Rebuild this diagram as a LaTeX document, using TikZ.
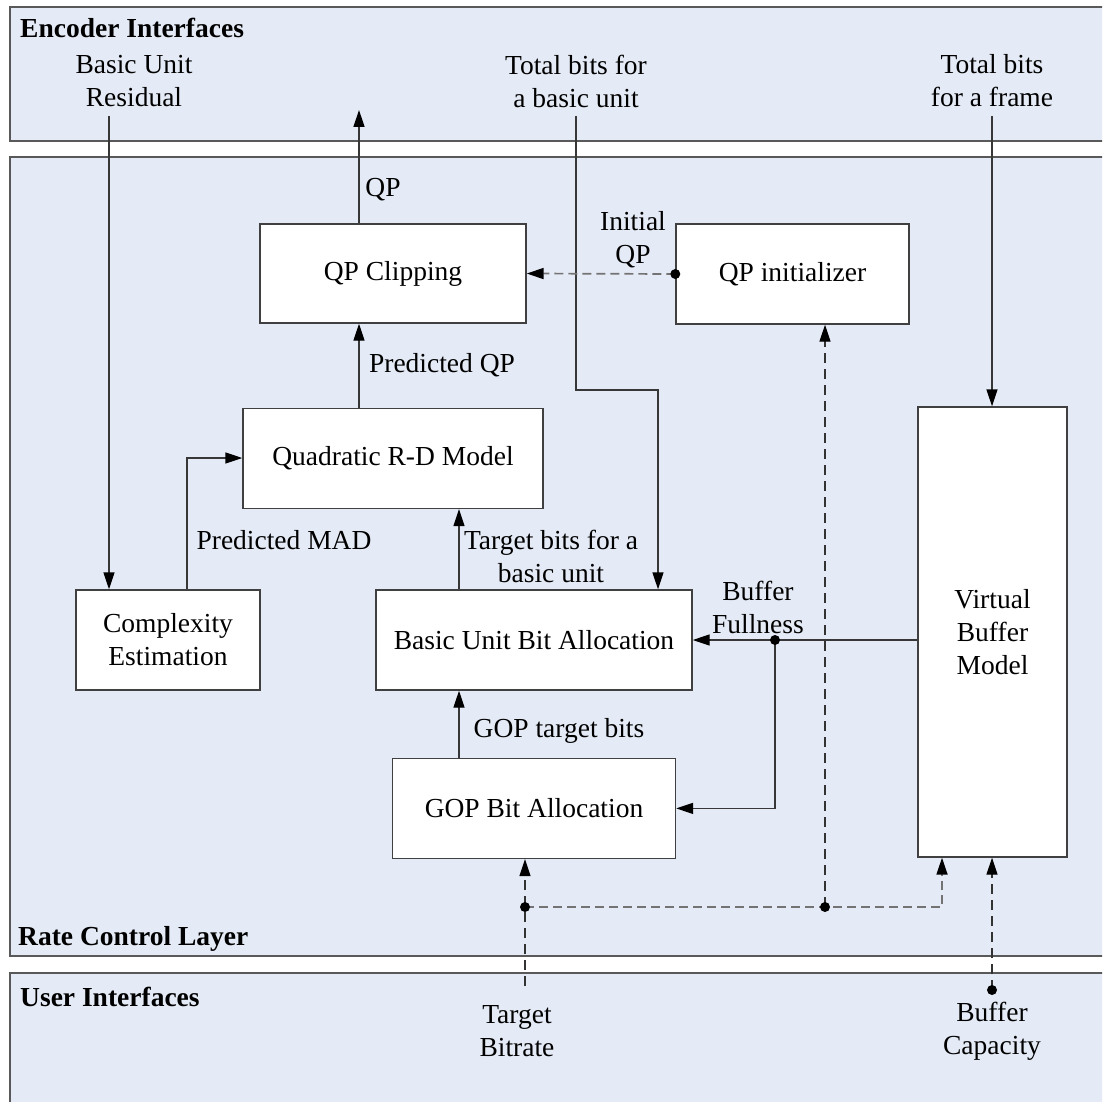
\documentclass[tikz,border=0pt]{standalone}
\usepackage{fontspec}
\setmainfont{Liberation Serif}
\usetikzlibrary{positioning,arrows.meta,calc}
\definecolor{bandblue}{RGB}{229,235,246}
\definecolor{wire}{RGB}{55,55,55}
\definecolor{dashgray}{RGB}{115,115,115}

\begin{document}
\begin{tikzpicture}[x=1pt, y=-1pt,
font=\fontsize{27.5}{33}\selectfont,
band/.style={draw=black!65, line width=1.6pt, fill=bandblue},
box/.style={draw=black!75, line width=1.4pt, fill=white, align=center, inner sep=0pt},
lbl/.style={align=center, inner sep=0pt},
head/.style={anchor=west, inner sep=0pt, font=\fontsize{27.5}{33}\selectfont\bfseries},
arr/.style={-{Triangle[length=17pt,width=11pt,color=black]}, line width=1.4pt, draw=wire},
dsh/.style={arr, dash pattern=on 10pt off 6pt, draw=black!80},
gdsh/.style={arr, dash pattern=on 9pt off 5pt, draw=dashgray, line width=1.7pt},
dot/.style={circle, fill=black, inner sep=0pt, minimum size=10pt}
]
\useasboundingbox (0,0) rectangle (1102,1102);
\clip (0,0) rectangle (1102,1102);

% layers
\draw[band] (10,7) rectangle (1110,141);
\draw[band] (10,157) rectangle (1110,956);
\draw[band] (10,973) rectangle (1110,1110);

\node[head] (enc) at (20,28) {Encoder Interfaces};
\node[head] (rcl) at (18,939) {Rate Control Layer};
\node[head] (usr) at (20,997) {User Interfaces};

% blocks
\node[box, minimum width=266pt, minimum height=99pt] (clip) at (393,273.5) {QP Clipping};
\node[box, minimum width=233pt, minimum height=100pt] (init) at (792.5,274) {QP initializer};
\node[box, minimum width=300pt, minimum height=100pt, below=84pt of clip] (quad) {Quadratic R-D Model};
\node[box, minimum width=184pt, minimum height=100pt] (cplx) at (168,640) {Complexity\\Estimation};
\node[box, minimum width=316pt, minimum height=100pt] (bua) at (534,640) {Basic Unit Bit Allocation};
\node[box, minimum width=283pt, minimum height=100pt, below=67pt of bua] (gop) {GOP Bit Allocation};
\node[box, minimum width=149pt, minimum height=450pt] (vbm) at (992.5,632) {Virtual\\Buffer\\Model};

% interface texts
\node[lbl] (resid) at (134,81) {Basic Unit\\Residual};
\node[lbl] (bitsbu) at (576,81) {Total bits for\\a basic unit};
\node[lbl] (bitsfr) at (992,81) {Total bits\\for a frame};
\node[lbl] (rate) at (517,1031) {Target\\Bitrate};
\node[lbl] (cap) at (992,1031) {Buffer\\Capacity};

% connector labels
\node[lbl] (qplbl) at (383,190) {QP};
\node[lbl] (initlbl) at (633,240) {Initial\\QP};
\node[lbl] (pqplbl) at (442,365) {Predicted QP};
\node[lbl] (madlbl) at (284,540) {Predicted MAD};
\node[lbl] (tbulbl) at (551,556) {Target bits for a\\basic unit};
\node[lbl] (goplbl) at (559,731) {GOP target bits};
\node[lbl] (bflbl) at (758,607) {Buffer\\Fullness};

% free ends and bends
\coordinate (resin) at (109,116);
\coordinate (qpout) at (359,110);
\coordinate (mad) at (187,458);
\coordinate (tbu) at (576,116);
\coordinate (tbubend) at (658,390);
\coordinate (tbf) at (992,116);
\coordinate (midx) at (459,548);
\coordinate (bf) at (775,640);
\coordinate (tbr) at (525,986);
\coordinate (tbrdot) at (525,907);
\coordinate (idot) at (825,907);
\coordinate (bcap) at (992,990);

% solid connectors
\draw[arr] (resin) -- (resin |- cplx.north);
\draw[arr] (qpout |- clip.north) -- (qpout);
\draw[arr] (qpout |- quad.north) -- (qpout |- clip.south);
\draw[arr] (mad |- cplx.north) -- (mad) -- (quad.west |- mad);
\draw[arr] (tbu) |- (tbubend) -- (tbubend |- bua.north);
\draw[arr] (tbf) -- (tbf |- vbm.north);
\draw[arr] (midx |- bua.north) -- (midx |- quad.south);
\draw[arr] (midx |- gop.north) -- (midx |- bua.south);
\draw[arr] (vbm.west |- bf) -- (bua.east |- bf);
\draw[arr] (bf) |- (gop.east);

% dashed connectors
\draw[gdsh] (init.west) -- (clip.east);
\draw[dsh] (tbr) -- (tbr |- gop.south);
\draw[gdsh] (tbrdot) -| ($(vbm.south)+(-50.5,0)$);
\draw[dsh] (idot) -- (idot |- init.south);
\draw[dsh] (bcap) -- (bcap |- vbm.south);

% junctions
\node[dot] at (init.west) {};
\node[dot] at (bf) {};
\node[dot] at (tbrdot) {};
\node[dot] at (idot) {};
\node[dot] at (bcap) {};
\end{tikzpicture}
\end{document}
